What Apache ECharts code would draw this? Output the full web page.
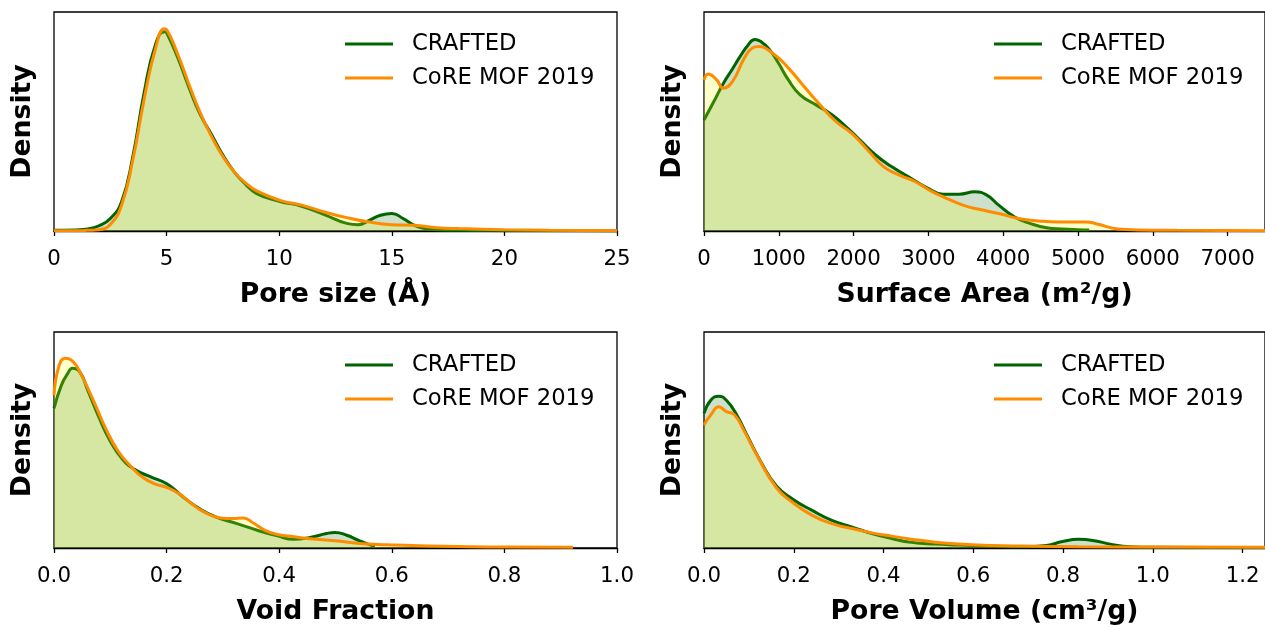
<!DOCTYPE html>
<html>
<head>
<meta charset="utf-8">
<script src="https://cdn.jsdelivr.net/npm/echarts@6/dist/echarts.min.js"></script>
<style>
html,body{margin:0;padding:0;background:#fff;}
#chart{width:1265px;height:627px;}
</style>
</head>
<body>
<div id="chart"></div>
<script>
// ---- Data (relative density; 1 = top of frame) ----
// Pore size (Å)
const poreSizeCraftedX = [0,1,1.5,2,2.5,3,3.5,4,4.5,4.9,5,5.5,6,6.5,7,7.5,8,8.5,9,10,11,12,13,13.5,14,14.5,15,15.5,16,16.5,17,18,20,22,25];
const poreSizeCraftedY = [0.003,0.005,0.009,0.024,0.057,0.133,0.34,0.63,0.85,0.91,0.905,0.79,0.653,0.53,0.44,0.347,0.27,0.214,0.171,0.136,0.113,0.075,0.035,0.029,0.049,0.072,0.08,0.057,0.026,0.011,0.006,0.003,0.0015,0.001,0];
const poreSizeCoreX = [0,1,1.5,2,2.5,3,3.5,4,4.5,4.9,5,5.5,6,6.5,7,7.5,8,8.5,9,10,11,12,13,14,15,16,17,18,20,22,25];
const poreSizeCoreY = [0.0015,0.0015,0.003,0.006,0.03,0.118,0.324,0.6,0.83,0.924,0.92,0.806,0.668,0.538,0.431,0.34,0.27,0.22,0.183,0.141,0.118,0.087,0.061,0.041,0.029,0.026,0.015,0.011,0.006,0.003,0.0015];

// Surface area (m²/g)
const surfaceCraftedX = [0,130,258,380,481,580,682,754,860,993,1126,1285,1498,1710,1922,2082,2294,2507,2772,2985,3197,3409,3622,3781,3940,4153,4365,4578,4790,5003,5150];
const surfaceCraftedY = [0.507,0.59,0.674,0.74,0.796,0.845,0.875,0.866,0.835,0.768,0.691,0.622,0.576,0.531,0.469,0.416,0.347,0.294,0.24,0.197,0.168,0.168,0.179,0.164,0.118,0.064,0.034,0.015,0.009,0.006,0.005];
const surfaceCoreX = [0,57,170,258,382,542,648,726,913,1126,1338,1551,1763,1975,2188,2400,2613,2825,3037,3250,3462,3675,3940,4206,4472,4737,5109,5268,5534,5799,6330,7500];
const surfaceCoreY = [0.69,0.717,0.69,0.652,0.683,0.791,0.836,0.842,0.813,0.745,0.66,0.576,0.5,0.446,0.37,0.294,0.255,0.225,0.182,0.148,0.118,0.099,0.08,0.057,0.046,0.041,0.041,0.031,0.009,0.005,0.003,0.0015];

// Void fraction
const voidCraftedX = [0,0.013,0.024,0.033,0.046,0.06,0.078,0.1,0.122,0.143,0.172,0.201,0.23,0.259,0.288,0.325,0.361,0.397,0.426,0.455,0.484,0.499,0.52,0.542,0.57];
const voidCraftedY = [0.646,0.753,0.806,0.832,0.814,0.73,0.616,0.494,0.41,0.364,0.329,0.296,0.235,0.181,0.143,0.113,0.082,0.056,0.04,0.049,0.067,0.072,0.059,0.034,0.006];
const voidCoreX = [0,0.009,0.02,0.035,0.049,0.071,0.093,0.114,0.136,0.158,0.18,0.201,0.223,0.245,0.267,0.296,0.317,0.336,0.354,0.375,0.397,0.426,0.455,0.499,0.542,0.593,0.665,0.738,0.81,0.922];
const voidCoreY = [0.707,0.845,0.878,0.86,0.799,0.677,0.547,0.448,0.38,0.326,0.296,0.28,0.25,0.204,0.166,0.139,0.136,0.139,0.116,0.082,0.0625,0.052,0.043,0.034,0.021,0.015,0.009,0.006,0.0046,0.003];

// Pore volume (cm³/g)
const volumeCraftedX = [0,0.015,0.033,0.05,0.073,0.099,0.126,0.161,0.197,0.241,0.285,0.329,0.374,0.418,0.462,0.515,0.569,0.639,0.71,0.763,0.799,0.834,0.87,0.905,0.949,1.011,1.25];
const volumeCraftedY = [0.623,0.684,0.703,0.684,0.616,0.509,0.402,0.288,0.227,0.174,0.128,0.098,0.067,0.044,0.026,0.018,0.014,0.009,0.006,0.012,0.03,0.04,0.034,0.018,0.006,0.003,0.0015];
const volumeCoreX = [0,0.015,0.033,0.05,0.068,0.09,0.117,0.161,0.197,0.241,0.285,0.329,0.374,0.418,0.462,0.515,0.569,0.639,0.71,0.834,1.011,1.25];
const volumeCoreY = [0.57,0.616,0.654,0.631,0.616,0.54,0.433,0.28,0.212,0.151,0.113,0.09,0.07,0.055,0.041,0.027,0.018,0.012,0.009,0.006,0.0046,0.003];

// Axis settings
const panelNames = ['Pore size (Å)', 'Surface Area (m²/g)', 'Void Fraction', 'Pore Volume (cm³/g)'];
const xMins = [0, 0, 0, 0];
const xMaxs = [25, 7500, 1.0, 1.25];
const xIntervals = [5, 1000, 0.2, 0.2];
const seriesNames = ['CRAFTED', 'CoRE MOF 2019'];

const craftedColor = '#006400';
const coreColor = '#ff8c00';
const FONT = 'DejaVu Sans';

function pairs(xs, ys) { return xs.map((x, i) => [x, ys[i]]); }

const panelData = [
  [pairs(poreSizeCraftedX, poreSizeCraftedY), pairs(poreSizeCoreX, poreSizeCoreY)],
  [pairs(surfaceCraftedX, surfaceCraftedY), pairs(surfaceCoreX, surfaceCoreY)],
  [pairs(voidCraftedX, voidCraftedY), pairs(voidCoreX, voidCoreY)],
  [pairs(volumeCraftedX, volumeCraftedY), pairs(volumeCoreX, volumeCoreY)]
];

const gridPos = [
  {left: 54, top: 12}, {left: 704, top: 12},
  {left: 54, top: 332}, {left: 704, top: 332}
];
const legendPos = [
  {left: 345, top: 29}, {left: 994, top: 29},
  {left: 345, top: 350}, {left: 994, top: 350}
];

const grids = gridPos.map(p => ({
  left: p.left, top: p.top, width: 563, height: 219,
  show: true, borderColor: '#000', borderWidth: 1.3, backgroundColor: 'transparent'
}));

const labelFmt = [
  v => String(v),
  v => String(v),
  v => v.toFixed(1),
  v => v.toFixed(1)
];

const xAxes = panelNames.map((nm, i) => ({
  type: 'value', gridIndex: i, min: xMins[i], max: xMaxs[i], interval: xIntervals[i],
  name: nm, nameLocation: 'middle', nameGap: 51,
  nameTextStyle: {fontFamily: FONT, fontSize: 26.7, fontWeight: 'bold', color: '#000'},
  axisLine: {show: true, onZero: false, lineStyle: {color: '#000', width: 1.3}},
  axisTick: {show: true, inside: false, length: 5, lineStyle: {color: '#000', width: 1.3}},
  axisLabel: {fontFamily: FONT, fontSize: 21.3, color: '#000', margin: 18,
              showMaxLabel: (i === 1 || i === 3) ? false : true, formatter: labelFmt[i]},
  splitLine: {show: false}
}));

const yAxes = panelNames.map((nm, i) => ({
  type: 'value', gridIndex: i, min: 0, max: 1,
  name: 'Density', nameLocation: 'middle', nameRotate: 90, nameGap: 17,
  nameTextStyle: {fontFamily: FONT, fontSize: 26.7, fontWeight: 'bold', color: '#000'},
  axisLine: {show: false}, axisTick: {show: false}, axisLabel: {show: false},
  splitLine: {show: false}
}));

const series = [];
panelData.forEach((pd, i) => {
  series.push({
    name: seriesNames[0], type: 'line', xAxisIndex: i, yAxisIndex: i,
    data: pd[0], showSymbol: false, symbol: 'none', smooth: 0.5,
    color: craftedColor,
    lineStyle: {color: craftedColor, width: 3},
    areaStyle: {color: 'rgba(0,100,0,0.2)', opacity: 1, origin: 'start'},
    z: 2
  });
  series.push({
    name: seriesNames[1], type: 'line', xAxisIndex: i, yAxisIndex: i,
    data: pd[1], showSymbol: false, symbol: 'none', smooth: 0.5,
    color: coreColor,
    lineStyle: {color: coreColor, width: 3},
    areaStyle: {color: 'rgba(255,255,0,0.2)', opacity: 1, origin: 'start'},
    z: 3
  });
});

const legends = legendPos.map(p => ({
  left: p.left, top: p.top + 2, padding: 0, orient: 'vertical', selectedMode: false,
  icon: 'rect', itemWidth: 48, itemHeight: 3, itemGap: 8,
  data: seriesNames,
  textStyle: {fontFamily: FONT, fontSize: 22.7, color: '#000', lineHeight: 26, padding: [0, 0, 0, 14]}
}));

const chart = echarts.init(document.getElementById('chart'), null, {renderer: 'canvas'});
chart.setOption({
  animation: false,
  backgroundColor: '#fff',
  grid: grids,
  xAxis: xAxes,
  yAxis: yAxes,
  legend: legends,
  series: series
});
</script>
</body>
</html>
